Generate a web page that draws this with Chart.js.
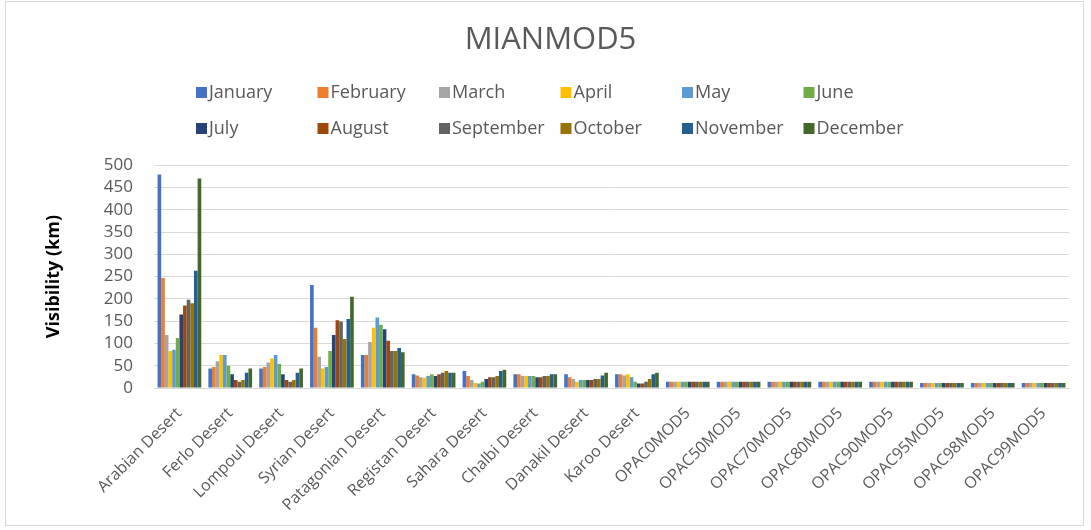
<!DOCTYPE html>
<html>
<head>
<meta charset="utf-8">
<script src="https://cdn.jsdelivr.net/npm/chart.js@4.4.1/dist/chart.umd.min.js"></script>
<style>
  html, body { margin: 0; padding: 0; background: #fff; }
  #wrap { width: 1091px; height: 530px; position: relative; }
</style>
</head>
<body>
<div id="wrap"><canvas id="chart" width="1091" height="530"></canvas></div>
<script>
const categories = ['Arabian Desert', 'Ferlo Desert', 'Lompoul Desert', 'Syrian Desert', 'Patagonian Desert',
    'Registan Desert', 'Sahara Desert', 'Chalbi Desert', 'Danakil Desert', 'Karoo Desert',
    'OPAC0MOD5', 'OPAC50MOD5', 'OPAC70MOD5', 'OPAC80MOD5', 'OPAC90MOD5', 'OPAC95MOD5', 'OPAC98MOD5', 'OPAC99MOD5']

const months = ['January', 'February', 'March', 'April', 'May', 'June',
    'July', 'August', 'September', 'October', 'November', 'December']

const january   = [479, 44, 44, 231, 74, 31, 38, 31, 31, 31, 14, 14, 14, 14, 14, 11, 11, 11]
const february  = [247, 47, 47, 135, 74, 28, 27, 31, 24, 31, 14, 14, 14, 14, 14, 11, 11, 11]
const march     = [119, 60, 57, 70, 103, 24, 18, 27, 20, 28, 14, 14, 14, 14, 14, 11, 11, 11]
const april     = [83, 74, 66, 44, 135, 23, 11, 27, 14, 31, 14, 14, 14, 14, 14, 11, 11, 11]
const may       = [86, 74, 74, 47, 158, 27, 10, 27, 18, 24, 14, 14, 14, 14, 14, 11, 11, 11]
const june      = [112, 50, 54, 83, 142, 31, 14, 27, 18, 14, 14, 14, 14, 14, 14, 11, 11, 11]
const july      = [165, 31, 31, 119, 132, 27, 20, 24, 18, 10, 14, 14, 14, 14, 14, 11, 11, 11]
const august    = [185, 18, 18, 152, 106, 31, 24, 24, 18, 10, 14, 14, 14, 14, 14, 11, 11, 11]
const september = [198, 14, 14, 149, 83, 34, 24, 27, 20, 14, 14, 14, 14, 14, 14, 11, 11, 11]
const october   = [190, 18, 18, 110, 83, 38, 27, 27, 20, 20, 14, 14, 14, 14, 14, 11, 11, 11]
const november  = [263, 34, 34, 155, 90, 34, 38, 31, 28, 31, 14, 14, 14, 14, 14, 11, 11, 11]
const december  = [470, 44, 44, 205, 80, 34, 41, 31, 34, 34, 14, 14, 14, 14, 14, 11, 11, 11]

const series = [january, february, march, april, may, june, july, august, september, october, november, december]

const colors = ['#4472C4', '#ED7D31', '#A5A5A5', '#FFC000', '#5B9BD5', '#70AD47',
    '#264478', '#9E480E', '#636363', '#997300', '#255E91', '#43682B']

const FONT = "'Open Sans', 'Noto Sans', sans-serif"

// legend drawn as a fixed 6 x 2 grid, like the excel one
const gridLegend = {
    id: 'gridLegend',
    afterDraw(chart) {
        const ctx = chart.ctx
        ctx.save()
        ctx.font = '18px ' + FONT
        ctx.textBaseline = 'middle'
        chart.data.datasets.forEach((ds, i) => {
            const col = i % 6
            const row = Math.floor(i / 6)
            const x = 196 + col * 121.5
            const y = 92 + row * 36
            ctx.fillStyle = ds.backgroundColor
            ctx.fillRect(x, y - 5, 11, 11)
            ctx.fillStyle = '#595959'
            ctx.fillText(ds.label, x + 13, y + 1)
        })
        ctx.restore()
    }
}

const frame = {
    id: 'frame',
    beforeDraw(chart) {
        const ctx = chart.ctx
        ctx.save()
        ctx.fillStyle = '#fff'
        ctx.fillRect(0, 0, chart.width, chart.height)
        ctx.strokeStyle = '#d9d9d9'
        ctx.lineWidth = 1
        ctx.strokeRect(5.5, 1.5, 1078, 524)
        ctx.restore()
    }
}

const data = {
    labels: categories,
    datasets: months.map((m, i) => ({
        label: m,
        data: series[i],
        backgroundColor: colors[i],
        barPercentage: 1,
        categoryPercentage: 0.86
    }))
}

const config = {
    type: 'bar',
    data: data,
    plugins: [frame, gridLegend],
    options: {
        responsive: false,
        animation: false,
        layout: { padding: { left: 32, right: 22, top: 0, bottom: 0 } },
        plugins: {
            legend: { display: false },
            tooltip: { enabled: false },
            title: {
                display: true,
                text: 'MIANMOD5',
                color: '#595959',
                font: { family: FONT, size: 31, weight: 'normal' },
                padding: { top: 22, bottom: 106 }
            }
        },
        scales: {
            x: {
                grid: { display: false, drawTicks: false },
                border: { color: '#d9d9d9' },
                ticks: {
                    color: '#595959',
                    font: { family: FONT, size: 16 },
                    minRotation: 45,
                    maxRotation: 45,
                    padding: 16,
                    autoSkip: false
                },
                afterFit: (s) => { s.height = 142 }
            },
            y: {
                min: 0,
                max: 500,
                ticks: {
                    stepSize: 50,
                    autoSkip: false,
                    color: '#595959',
                    font: { family: FONT, size: 17 },
                    padding: 21
                },
                grid: { color: '#d9d9d9', drawTicks: false },
                border: { display: false },
                title: {
                    display: true,
                    text: 'Visibility (km)',
                    color: '#000',
                    font: { family: FONT, size: 18, weight: 'bold' },
                    padding: { top: 11, bottom: 0 }
                },
                afterFit: (s) => { s.width = 122 }
            }
        }
    }
}

const chart = new Chart(document.getElementById('chart'), config)
</script>
</body>
</html>
